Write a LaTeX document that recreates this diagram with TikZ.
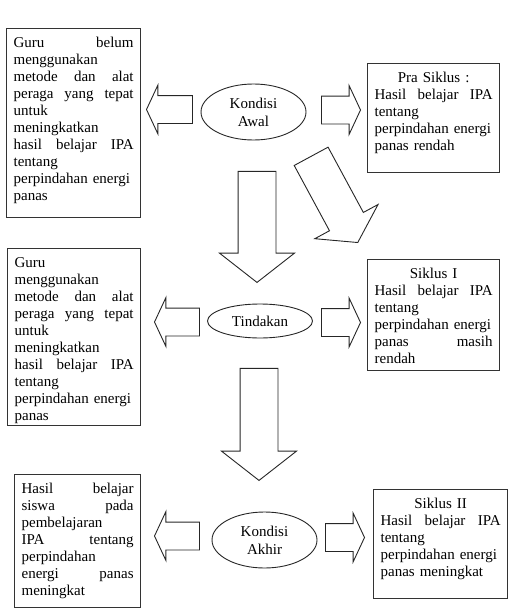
\documentclass[tikz,border=0pt]{standalone}
\usepackage{fontspec}
\setmainfont{Liberation Serif}
\usetikzlibrary{shapes.geometric,shapes.arrows,positioning}
\newcommand{\cenline}[1]{\makebox[\linewidth][c]{#1}}
\tikzset{
    box/.style={
        draw=black!80,
        line width=1.3pt,
        anchor=north west,
        align=left,
        inner xsep=7pt,
        inner ysep=6pt,
        text height=13pt,
        font=\fontsize{15}{17}\selectfont
    },
    cond/.style={
        ellipse,
        draw=black!85,
        line width=0.9pt,
        inner sep=0pt,
        minimum width=105pt,
        align=center,
        font=\fontsize{15}{18}\selectfont
    },
    sidearrow/.style={
        single arrow,
        draw=black!85,
        line width=0.9pt,
        anchor=tip,
        inner xsep=0pt,
        inner ysep=13.5pt,
        single arrow head extend=10.5pt,
        single arrow tip angle=130
    },
    downarrow/.style={
        single arrow,
        draw=black!85,
        line width=0.9pt,
        anchor=tip,
        inner xsep=0pt,
        inner ysep=18.5pt,
        single arrow head extend=18.5pt,
        single arrow tip angle=104,
        rotate=-90
    }
}

\begin{document}
\begin{tikzpicture}[x=1pt,y=-1pt]
\useasboundingbox (0,0) rectangle (514,616);
% conditions
\node[cond, minimum height=56pt] (awal) at (253.5,112) {Kondisi\\Awal};
\node[cond, minimum height=34pt] (tindakan) at (260,321) {Tindakan};
\node[cond, minimum height=56pt] (akhir) at (264.5,540) {Kondisi\\Akhir};
% boxes
\node[box, text width=120pt, text depth=164pt] (belum) at (6,28) {
Guru \hfill belum\\
menggunakan\\
metode \hfill dan \hfill alat\\
peraga \hfill yang \hfill tepat\\
untuk\\
meningkatkan\\
hasil \hfill belajar \hfill IPA\\
tentang\\
perpindahan energi\\
panas};
\node[box, text width=118pt, text depth=84pt] (pra) at (367,63) {
\cenline{Pra Siklus :}\\
Hasil \hfill belajar \hfill IPA\\
tentang\\
perpindahan energi\\
panas rendah};
\node[box, text width=119pt, text depth=152pt] (guru) at (7,248) {
Guru\\
menggunakan\\
metode \hfill dan \hfill alat\\
peraga \hfill yang \hfill tepat\\
untuk\\
meningkatkan\\
hasil \hfill belajar \hfill IPA\\
tentang\\
perpindahan energi\\
panas};
\node[box, text width=118pt, text depth=86pt] (siklus1) at (367,259) {
\cenline{Siklus I}\\
Hasil \hfill belajar \hfill IPA\\
tentang\\
perpindahan energi\\
panas \hfill masih\\
rendah};
\node[box, text width=112pt, text depth=108pt] (hasil) at (14,474) {
Hasil \hfill belajar\\
siswa \hfill pada\\
pembelajaran\\
IPA \hfill tentang\\
perpindahan\\
energi \hfill panas\\
meningkat};
\node[box, text width=120pt, text depth=84pt] (siklus2) at (373,489) {
\cenline{Siklus II}\\
Hasil \hfill belajar \hfill IPA\\
tentang\\
perpindahan energi\\
panas meningkat};
% block arrows, placed by their tips
\node[sidearrow, minimum height=46pt, rotate=180] (kiri1) at (146,109.5) {};
\node[sidearrow, minimum height=39pt] (kanan1) at (361,110) {};
\node[downarrow, minimum height=111pt] (turun1) at (257,283) {};
\node[single arrow, draw=black!85, line width=0.9pt, anchor=tip,
      inner xsep=0pt, inner ysep=18.8pt, single arrow head extend=16.7pt,
      single arrow tip angle=113, minimum height=98pt,
      rotate=-61.6] (miring) at (358,243) {};
\node[sidearrow, minimum height=45pt, rotate=180] (kiri2) at (154,322) {};
\node[sidearrow, minimum height=39pt] (kanan2) at (361,322.5) {};
\node[downarrow, minimum height=112pt] (turun2) at (259,481) {};
\node[sidearrow, minimum height=45pt, rotate=180] (kiri3) at (154,536) {};
\node[sidearrow, minimum height=39pt] (kanan3) at (365,537.5) {};
\end{tikzpicture}
\end{document}
